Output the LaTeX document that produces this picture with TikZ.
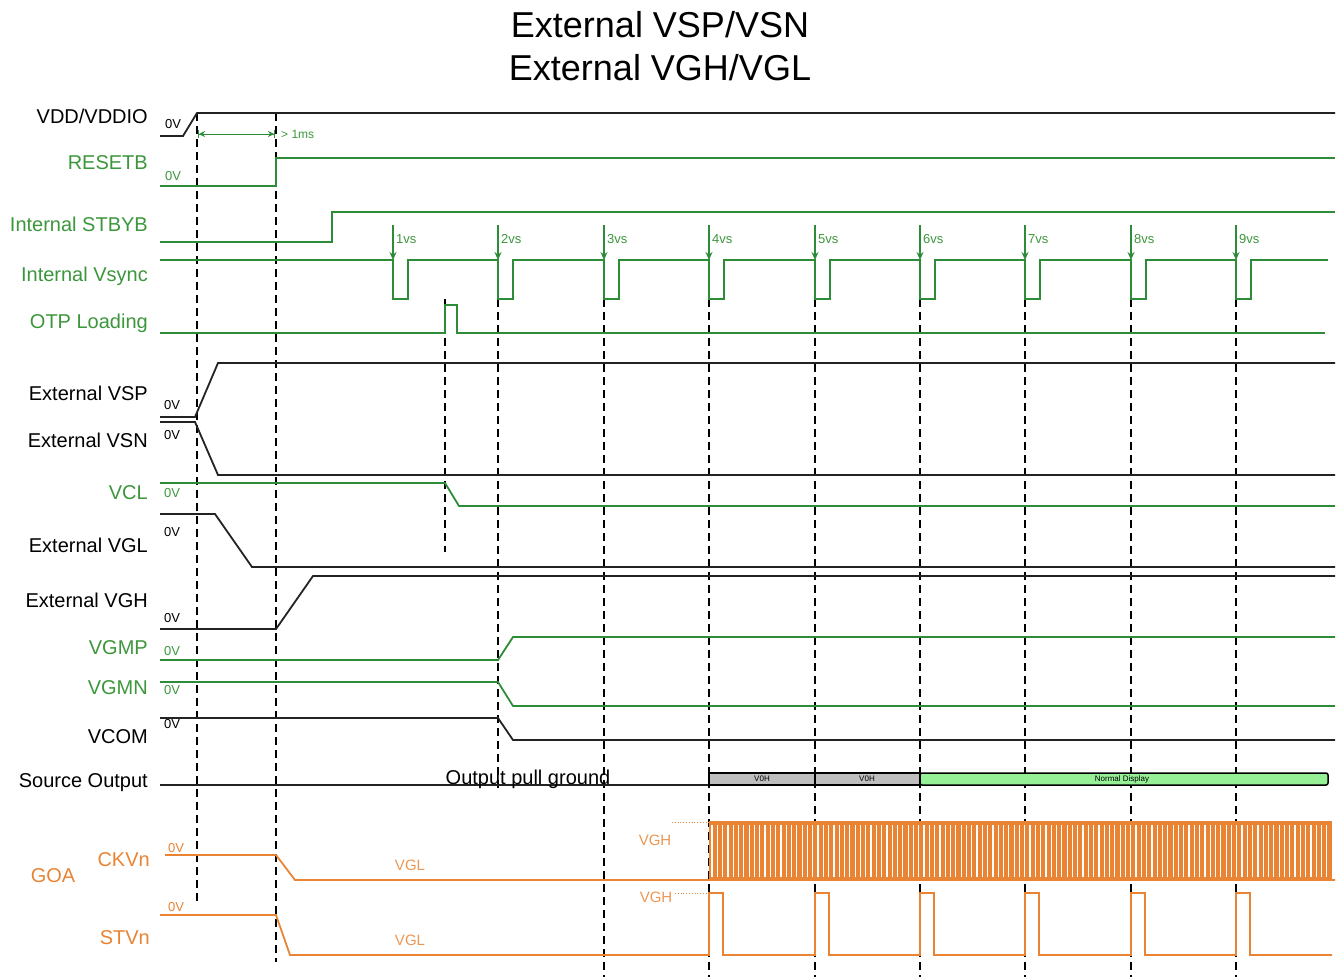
\documentclass[tikz,border=0pt]{standalone}
\usepackage{fontspec}
\setmainfont{Liberation Sans}
\usetikzlibrary{arrows.meta}
\definecolor{sgreen}{RGB}{45,140,55}
\definecolor{lgreen}{RGB}{60,150,60}
\definecolor{sorange}{RGB}{232,132,52}
\definecolor{sblack}{RGB}{35,35,35}
\definecolor{barfill}{RGB}{190,190,190}
\definecolor{barg}{RGB}{150,240,150}
\begin{document}
\begin{tikzpicture}[x=1pt,y=-1pt,
  sig/.style={line width=1.8pt,line join=miter},
  gsig/.style={sig,draw=sgreen},
  ksig/.style={sig,draw=sblack},
  osig/.style={sig,draw=sorange},
  guide/.style={line width=1.8pt,draw=black,dash pattern=on 8pt off 5pt},
  lab/.style={anchor=east,font=\fontsize{20}{22}\selectfont,inner sep=0pt},
  zero/.style={font=\fontsize{13}{14}\selectfont,inner sep=0pt},
  vslab/.style={anchor=west,font=\fontsize{13}{14}\selectfont,inner sep=0pt,text=lgreen},
  olab/.style={font=\fontsize{15}{16}\selectfont,inner sep=0pt,text=sorange!85}
]
\useasboundingbox (0,0) rectangle (1340,977);
% title
\node[font=\fontsize{36}{40}\selectfont,inner sep=0pt] (t1) at (660,25) {External VSP/VSN};
\node[font=\fontsize{36}{40}\selectfont,inner sep=0pt] (t2) at (660,68) {External VGH/VGL};
% labels
\node[lab,text=black] (lvdd) at (148,116) {VDD/VDDIO};
\node[lab,text=lgreen] (lrst) at (148,163) {RESETB};
\node[lab,text=lgreen] (lstb) at (148,224) {Internal STBYB};
\node[lab,text=lgreen] (lvs) at (148,276) {Internal Vsync};
\node[lab,text=lgreen] (lotp) at (148,323) {OTP Loading};
\node[lab,text=black] (lvsp) at (148,393) {External VSP};
\node[lab,text=black] (lvsn) at (148,440) {External VSN};
\node[lab,text=lgreen] (lvcl) at (148,493) {VCL};
\node[lab,text=black] (lvgl) at (148,545) {External VGL};
\node[lab,text=black] (lvgh) at (148,600) {External VGH};
\node[lab,text=lgreen] (lvgmp) at (148,648) {VGMP};
\node[lab,text=lgreen] (lvgmn) at (148,688) {VGMN};
\node[lab,text=black] (lvcom) at (148,737) {VCOM};
\node[lab,text=black] (lsrc) at (148,783) {Source Output};
\node[lab,text=sorange,anchor=center] (lgoa) at (53,876) {GOA};
\node[lab,text=sorange] (lckv) at (150,860) {CKVn};
\node[lab,text=sorange] (lstv) at (150,938) {STVn};
% zero labels
\node[zero] (z1) at (173,124) {0V};
\node[zero,text=lgreen] (z2) at (173,176) {0V};
\node[zero] (z3) at (172,405) {0V};
\node[zero] (z4) at (172,435) {0V};
\node[zero,text=lgreen] (z5) at (172,493) {0V};
\node[zero] (z6) at (172,532) {0V};
\node[zero] (z7) at (172,618) {0V};
\node[zero,text=lgreen] (z8) at (172,651) {0V};
\node[zero,text=lgreen] (z9) at (172,690) {0V};
\node[zero] (z10) at (172,724) {0V};
\node[zero,text=sorange] (z11) at (176,848) {0V};
\node[zero,text=sorange] (z12) at (176,907) {0V};
% guide lines
\draw[guide] (197,113) -- (197,903);
\draw[guide] (276,113) -- (276,962);
\draw[guide] (445,299) -- (445,552);
\draw[guide] (498,299) -- (498,790);
\foreach \xx in {604,709,815,920,1025,1131,1236}
  \draw[guide] (\xx,299) -- (\xx,977);
% VDD
\draw[ksig] (160,136) -- (183,136) -- (197,113) -- (1335,113);
% >1ms
\draw[draw=sgreen,line width=1pt,{Bar[width=8pt]Stealth[length=6pt,width=6pt]}-{Stealth[length=6pt,width=6pt]Bar[width=8pt]}] (198,134) -- (275,134);
\node[vslab,font=\fontsize{12}{13}\selectfont] (ms) at (281,134) {> 1ms};
% RESETB
\draw[gsig] (160,186) -- (276,186) -- (276,158) -- (1335,158);
% STBYB
\draw[gsig] (160,242) -- (332,242) -- (332,212) -- (1335,212);
% Vsync
\draw[gsig] (160,260)
  \foreach \xx in {393,498,604,709,815,920,1025,1131,1236} { -- (\xx,260) -- (\xx,299) -- (\xx+15,299) -- (\xx+15,260) }
  -- (1328,260);
\foreach \xx/\n in {393/1,498/2,604/3,709/4,815/5,920/6,1025/7,1131/8,1236/9} {
  \draw[draw=sgreen,line width=1.2pt,-{Stealth[length=8pt,width=7pt]}] (\xx,225) -- (\xx,260);
  \node[vslab] at (\xx+3,239) {\n vs};
}
% OTP
\draw[gsig] (160,333) -- (445,333) -- (445,305) -- (457,305) -- (457,333) -- (1325,333);
% VSP / VSN
\draw[ksig] (160,417) -- (195,417) -- (218,363) -- (1335,363);
\draw[ksig] (160,422) -- (195,422) -- (218,475) -- (1335,475);
% VCL
\draw[gsig] (160,483) -- (445,483) -- (459,506) -- (1335,506);
% VGL / VGH
\draw[ksig] (160,514) -- (215,514) -- (252,567) -- (1335,567);
\draw[ksig] (160,629) -- (276,629) -- (313,576) -- (1335,576);
% VGMP / VGMN / VCOM
\draw[gsig] (160,660) -- (498,660) -- (513,637) -- (1335,637);
\draw[gsig] (160,682) -- (498,682) -- (513,706) -- (1335,706);
\draw[ksig] (160,718) -- (498,718) -- (513,740) -- (1335,740);
% Source output
\draw[ksig] (160,785) -- (709,785);
\node[font=\fontsize{20}{22}\selectfont,inner sep=0pt,anchor=base] (opg) at (528,784) {Output pull ground};
\draw[line width=1.5pt,fill=barfill] (709,773) rectangle (815,785);
\draw[line width=1.5pt,fill=barfill] (815,773) rectangle (920,785);
\draw[line width=1.5pt,fill=barg,rounded corners=2pt] (920,773) rectangle (1328,785);
\node[font=\fontsize{8}{9}\selectfont,inner sep=0pt] (b1) at (762,779) {V0H};
\node[font=\fontsize{8}{9}\selectfont,inner sep=0pt] (b2) at (867,779) {V0H};
\node[font=\fontsize{8}{9}\selectfont,inner sep=0pt] (b3) at (1122,779) {Normal Display};
% CKVn
\draw[osig] (165,855) -- (276,855) -- (295,880) -- (1335,880);
\fill[sorange] (709,822) rectangle (1332,880);
\foreach \i in {0,...,117}
  \draw[white,line width=1.2pt] (712+\i*5.3,825) -- (712+\i*5.3,877);
\draw[sorange,line width=1.2pt] (709,822) -- (1332,822);
\draw[sorange,line width=0.8pt,dotted] (672,822) -- (709,822);
\node[olab] (vgh1) at (655,840) {VGH};
\node[olab] (vgl1) at (410,865) {VGL};
% STVn
\draw[osig] (160,915) -- (276,915) -- (290,955)
  \foreach \xx in {709,815,920,1025,1131,1236} { -- (\xx,955) -- (\xx,893) -- (\xx+14,893) -- (\xx+14,955) }
  -- (1332,955);
\draw[sorange,line width=0.8pt,dotted] (675,893) -- (709,893);
\node[olab] (vgh2) at (656,897) {VGH};
\node[olab] (vgl2) at (410,940) {VGL};
\end{tikzpicture}
\end{document}
